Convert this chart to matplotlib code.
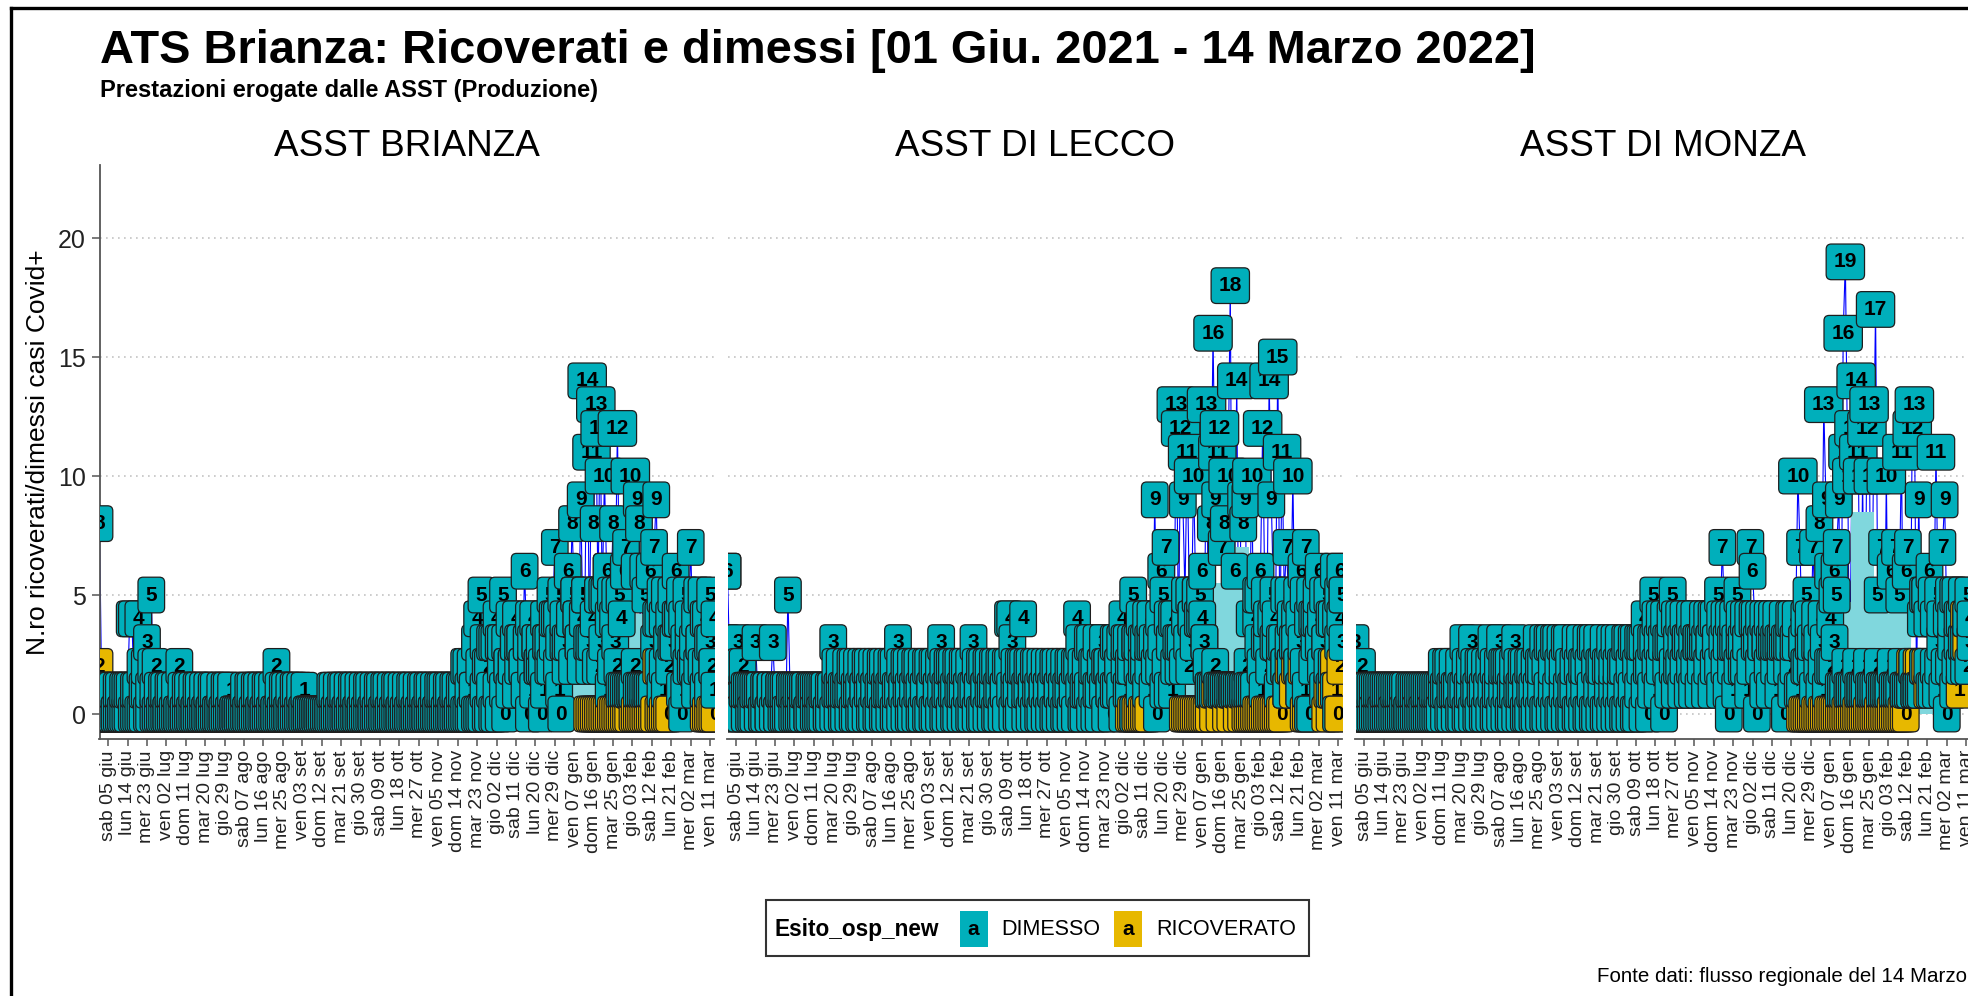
import datetime as dt
import numpy as np
import matplotlib
matplotlib.use("Agg")
import matplotlib.pyplot as plt
import matplotlib.dates as mdates
from matplotlib import font_manager
from matplotlib.path import Path
from matplotlib.lines import Line2D
from matplotlib.patches import Rectangle

_ = None  # no record on that day

# ---------------------------------------------------------------- texts
TITLE = "ATS Brianza: Ricoverati e dimessi [01 Giu. 2021 - 14 Marzo 2022]"
SUBTITLE = "Prestazioni erogate dalle ASST (Produzione)"
Y_LABEL = "N.ro ricoverati/dimessi casi Covid+"
CAPTION = "Fonte dati: flusso regionale del 14 Marzo 2022"
LEGEND_TITLE = "Esito_osp_new"
ESITI = ["DIMESSO", "RICOVERATO"]
FACETS = ["ASST BRIANZA", "ASST DI LECCO", "ASST DI MONZA"]

START = dt.date(2021, 6, 1)
END = dt.date(2022, 3, 13)
TICK_START = dt.date(2021, 6, 5)
TICK_STEP_DAYS = 9
Y_TICKS = [0, 5, 10, 15, 20]
TICK_LABELS = ["sab 05 giu", "lun 14 giu", "mer 23 giu", "ven 02 lug", "dom 11 lug",
               "mar 20 lug", "gio 29 lug", "sab 07 ago", "lun 16 ago", "mer 25 ago",
               "ven 03 set", "dom 12 set", "mar 21 set", "gio 30 set", "sab 09 ott",
               "lun 18 ott", "mer 27 ott", "ven 05 nov", "dom 14 nov", "mar 23 nov",
               "gio 02 dic", "sab 11 dic", "lun 20 dic", "mer 29 dic", "ven 07 gen",
               "dom 16 gen", "mar 25 gen", "gio 03 feb", "sab 12 feb", "lun 21 feb",
               "mer 02 mar", "ven 11 mar"]

# ---------------------------------------------------------------- ASST BRIANZA
B_HI = [8,1,0,1,1,0,1,0,1,1,  0,1,1,1,4,4,1,1,4,2,  1,2,3,1,5,1,2,1,0,1,
        1,0,1,1,0,1,0,2,1,0,  1,1,0,1,0,1,1,0,1,0,  1,0,1,1,0,0,1,0,1,1,
        0,1,0,0,0,0,0,1,0,1,  1,0,1,1,0,1,0,1,1,0,  1,0,2,1,0,1,1,0,1,0,
        1,1,0,1,0,1,0,0,0,0,  0,0,0,0,0,0,0,1,1,0,  1,0,1,1,0,1,0,1,1,0,
        1,0,1,0,1,1,0,1,0,1,  1,0,1,1,0,1,0,1,1,0,  1,0,1,0,1,1,0,1,0,1,
        1,0,1,1,0,1,0,1,1,1,  0,1,1,0,1,1,0,1,1,2,  2,1,2,1,3,4,2,5,3,2,
        2,3,3,3,4,3,3,5,3,2,  4,2,3,4,3,3,2,6,3,4,  3,4,3,2,3,2,4,3,3,5,
        4,7,4,3,5,4,3,6,4,8,  5,4,3,9,4,5,14,3,11,8,  13,5,12,5,10,6,4,5,8,5,
        12,5,1,6,7,1,10,1,6,9,  8,1,6,5,1,6,1,7,9,4,  5,4,5,3,4,5,3,6,4,5,
        4,3,5,4,7,3,4,5,3,5,  4,4,3,5,2,4]
B_LO = [1,0,0,0,0,0,0,0,0,0,  0,0,0,0,1,0,0,0,0,0,  0,1,0,0,2,0,0,0,0,0,
        0,0,0,0,0,0,0,0,0,0,  0,0,0,0,0,0,0,0,0,0,  0,0,0,0,0,0,0,0,0,0,
        0,0,0,0,0,0,0,0,0,0,  0,0,0,0,0,0,0,0,0,0,  0,0,0,0,0,0,0,0,0,0,
        0,0,0,0,0,0,0,0,0,0,  0,0,0,0,0,0,0,0,0,0,  0,0,0,0,0,0,0,0,0,0,
        0,0,0,0,0,0,0,0,0,0,  0,0,0,0,0,0,0,0,0,0,  0,0,0,0,0,0,0,0,0,0,
        0,0,0,0,0,0,0,0,0,0,  0,0,0,0,0,0,0,0,0,0,  0,0,0,1,0,0,0,0,1,0,
        0,1,0,0,1,0,2,1,0,2,  1,2,3,1,2,3,2,1,3,0,  2,1,3,2,2,0,1,3,2,2,
        3,4,2,1,0,3,2,3,4,2,  5,4,3,2,4,5,3,2,3,4,  2,5,2,3,5,6,1,2,4,3,
        2,1,4,1,1,1,1,1,2,1,  1,1,1,1,1,1,1,3,4,2,  1,2,1,3,2,3,3,4,4,1,
        0,1,2,3,2,2,1,2,3,2,  1,2,1,3,2,1]
B_RIC = [2,_,_,_,_,_,_,_,_,_,  _,_,_,_,_,_,_,_,_,_,  _,_,_,_,_,_,_,_,_,_,
         _,_,_,_,_,_,_,_,_,_,  _,_,_,_,_,_,_,_,_,_,  _,_,_,_,_,_,_,_,_,_,
         _,_,_,_,_,_,_,_,_,_,  _,_,_,_,_,_,_,_,_,_,  _,_,_,_,_,_,_,_,_,_,
         _,_,_,_,_,_,_,_,_,_,  _,_,_,_,_,_,_,_,_,_,  _,_,_,_,_,_,_,_,_,_,
         _,_,_,_,_,_,_,_,_,_,  _,_,_,_,_,_,_,_,_,_,  _,_,_,_,_,_,_,_,_,_,
         _,_,_,_,_,_,_,_,_,_,  _,_,_,_,_,_,_,_,_,_,  _,_,_,_,_,_,_,_,_,_,
         _,_,_,_,_,_,_,_,_,_,  _,_,_,_,_,_,_,_,_,_,  _,_,_,_,_,_,_,_,_,_,
         _,_,_,_,_,_,_,_,_,_,  _,_,_,_,_,_,0,0,0,0,  0,0,0,0,0,0,0,0,0,0,
         0,0,0,0,0,0,1,0,0,0,  0,0,0,0,0,0,0,0,2,0,  0,0,0,0,0,_,_,_,_,_,
         _,_,_,_,_,_,_,_,_,_,  0,0,0,0,0,0]
B_AREA_FROM = dt.date(2021, 12, 17)
B_AREA = [2.0,2.0,2.0,2.0,2.0,2.0,2.0,2.0,2.0,2.0,2.0,2.0,2.0,2.0,
          1.3,1.3,1.3,1.3,1.3,1.3,1.3,1.3,1.3,1.3,1.3,1.3,1.3,1.3,1.3,1.3,1.3,1.3,
          4.2,4.2,4.2,4.2,4.2,4.2,4.2,4.2,4.2,4.2,4.2,4.2,4.2,4.2,
          6.0,6.0,6.0,6.0,
          4.2,4.2,4.2,4.2,4.2,4.2,4.2,4.2]

# ---------------------------------------------------------------- ASST DI LECCO
L_HI = [6,2,1,2,1,3,2,2,1,1,  1,0,1,3,1,1,0,1,1,0,  1,3,1,0,1,1,1,0,5,1,
        1,0,1,1,0,1,1,0,1,1,  0,1,1,0,1,1,0,1,1,3,  2,1,2,1,1,2,1,2,2,1,
        2,1,2,1,2,2,1,2,1,2,  1,2,2,1,2,1,2,2,1,3,  2,1,2,2,1,2,1,2,2,1,
        2,1,2,2,1,2,2,1,2,3,  2,1,2,2,2,1,2,2,1,2,  2,1,2,1,3,2,1,2,2,1,
        2,2,1,2,2,1,2,2,1,2,  4,4,3,2,1,2,2,4,1,2,  2,1,2,2,1,2,1,2,1,2,
        1,2,2,1,2,1,2,1,2,2,  1,2,4,3,2,1,2,3,3,2,  2,3,1,2,3,2,2,1,2,3,
        3,2,3,4,3,3,2,3,5,3,  3,4,2,3,4,3,4,3,9,3,  4,6,5,7,4,3,4,4,13,3,
        12,9,5,11,5,4,10,5,4,5,  6,3,13,1,8,16,9,11,12,7,  8,1,10,18,1,6,14,1,9,8,
        9,1,4,10,1,5,5,6,12,5,  4,14,9,5,4,15,3,11,5,7,  5,4,10,3,5,4,6,5,7,4,
        5,4,4,5,6,4,5,3,5,4,  4,6,4,5,6,5]
L_LO = [3,0,1,0,1,2,0,1,0,1,  0,1,0,1,0,1,0,0,1,0,  1,0,1,0,1,0,0,1,0,1,
        0,1,0,0,1,0,1,0,0,1,  1,0,0,1,0,1,0,0,1,0,  1,0,1,0,0,1,0,1,0,0,
        1,0,0,1,0,1,0,0,1,0,  0,1,0,0,1,0,1,0,0,1,  0,1,0,1,0,0,1,0,1,0,
        0,1,0,0,1,0,0,1,0,1,  0,0,1,0,1,0,0,1,0,1,  0,1,0,0,1,0,1,0,0,1,
        0,1,0,1,0,0,1,0,1,0,  2,1,0,1,0,0,1,2,0,1,  0,1,0,1,0,0,1,0,1,0,
        1,0,0,1,0,1,0,0,1,0,  1,0,2,1,0,0,1,1,0,1,  0,1,0,2,1,0,2,1,0,1,
        1,2,1,0,2,1,1,2,0,3,  2,1,3,2,1,2,3,1,2,0,  2,3,1,2,1,3,1,2,3,2,
        3,2,4,3,2,4,3,5,4,4,  4,3,2,1,1,1,2,1,1,1,  1,1,1,1,1,1,1,1,1,1,
        1,2,1,1,1,4,3,2,1,3,  3,2,4,3,3,1,2,3,2,1,  3,2,3,4,2,1,3,2,1,0,
        0,2,3,4,3,2,1,3,2,1,  2,1,0,3,4,3]
L_RIC = [6,_,_,_,_,_,_,_,_,_,  _,_,_,_,_,_,_,_,_,_,  _,_,_,_,_,_,_,_,_,_,
         _,_,_,_,_,_,_,_,_,_,  _,_,_,_,_,_,_,_,_,_,  _,_,_,_,_,_,_,_,_,_,
         _,_,_,_,_,_,_,_,_,_,  _,_,_,_,_,_,_,_,_,_,  _,_,_,_,_,_,_,_,_,_,
         _,_,_,_,_,_,_,_,_,_,  _,_,_,_,_,_,_,_,_,_,  _,_,_,_,_,_,_,_,_,_,
         _,_,_,_,_,_,_,_,_,_,  _,_,_,_,_,_,_,_,_,_,  _,_,_,_,_,_,_,_,_,_,
         _,_,_,_,_,_,_,_,_,_,  _,_,_,_,_,_,_,_,_,_,  _,_,_,_,_,_,_,_,_,_,
         _,_,_,_,_,_,0,0,0,0,  0,0,0,0,0,0,_,_,_,_,  _,_,_,_,_,_,_,_,_,_,
         _,0,0,0,0,0,0,0,0,0,  0,0,0,0,1,0,1,1,0,1,  1,0,1,0,1,1,0,1,0,1,
         0,0,0,0,0,0,0,0,0,0,  0,0,0,0,0,0,0,0,2,1,  2,2,1,2,2,1,2,0,0,_,
         _,_,_,_,_,_,_,0,1,0,  1,2,1,0,2,5]
L_AREA_FROM = dt.date(2021, 12, 24)
L_AREA = [2.5,2.5,2.5,2.5,2.5,2.5,2.5,2.5,2.5,2.5,2.5,2.5,2.5,2.5,2.5,2.5,2.5,
          5.5,5.5,5.5,5.5,5.5,5.5,5.5,5.5,5.5,5.5,
          7.0,7.0,7.0,7.0,7.0,7.0,7.0,7.0,7.0,
          4.0,4.0,4.0,4.0,4.0,4.0,4.0,4.0,4.0,4.0,4.0,4.0]

# ---------------------------------------------------------------- ASST DI MONZA
M_HI = [3,1,1,2,1,0,1,1,0,1,  1,1,0,1,1,1,1,0,1,1,  1,1,0,1,0,1,1,1,0,1,
        1,0,1,1,1,0,1,1,1,0,  2,1,2,2,1,2,1,1,2,1,  3,2,1,2,3,2,1,2,2,1,
        2,1,2,3,2,1,2,3,2,2,  2,2,1,2,3,2,1,2,2,1,  2,2,1,2,3,2,2,3,2,3,
        3,2,3,3,2,3,2,3,3,2,  1,2,3,2,3,2,2,3,2,3,  3,2,3,2,2,3,2,2,3,2,
        3,2,3,2,2,3,3,2,3,3,  2,3,3,3,4,3,2,3,5,4,  3,4,3,4,3,3,4,5,4,3,
        4,3,4,3,3,4,3,4,3,3,  3,4,3,4,3,4,4,3,5,4,  7,4,3,4,3,4,3,5,4,3,
        4,3,4,7,6,4,3,4,3,4,  3,4,3,4,3,4,3,3,4,3,  3,4,4,3,4,10,7,3,4,5,
        4,3,7,4,3,8,4,13,9,6,  4,5,6,7,9,1,16,19,11,1,  10,12,14,11,1,10,1,12,13,1,
        10,17,5,1,7,1,10,1,6,1,  7,1,5,11,1,6,7,1,12,13,  1,9,4,5,5,4,6,5,4,11,
        5,4,7,9,4,5,4,5,5,4,  4,5,3,4,5,4]
M_LO = [2,0,0,1,0,0,0,0,1,0,  0,0,1,0,0,0,0,1,0,0,  0,0,1,0,0,0,0,0,1,0,
        0,1,0,0,0,1,0,0,0,1,  1,0,1,0,0,1,0,1,0,0,  1,0,0,1,0,1,0,0,1,0,
        0,1,0,1,0,0,1,0,1,0,  1,0,0,1,0,1,0,1,0,0,  0,1,0,0,1,0,1,0,0,1,
        0,1,0,1,0,0,1,0,1,0,  0,1,0,0,1,0,1,0,0,1,  0,0,1,0,1,0,0,1,0,1,
        0,1,0,1,0,0,1,0,1,0,  0,1,2,0,1,2,0,1,3,2,  1,2,3,0,2,1,3,2,1,2,
        2,1,2,3,1,2,1,2,3,1,  2,3,1,2,3,1,2,3,2,1,  3,2,1,0,2,3,1,2,3,2,
        2,3,1,2,4,3,0,2,3,1,  3,2,1,3,2,3,1,2,3,0,  2,3,1,2,3,1,1,3,2,2,
        3,2,1,3,2,1,2,3,1,2,  2,2,3,5,1,1,1,2,1,1,  1,1,2,1,1,1,1,2,1,1,
        1,1,2,1,1,1,1,1,2,1,  1,1,1,2,1,1,1,1,2,1,  1,1,1,2,5,2,1,1,2,1,
        2,3,1,2,0,2,3,1,2,3,  2,3,2,4,2,3]
M_RIC = [_,_,_,_,_,_,_,_,_,_,  _,_,_,_,_,_,_,_,_,_,  _,_,_,_,_,_,_,_,_,_,
         _,_,_,_,_,_,_,_,_,_,  _,_,_,_,_,_,_,_,_,_,  _,_,_,_,_,_,_,_,_,_,
         _,_,_,_,_,_,_,_,_,_,  _,_,_,_,_,_,_,_,_,_,  _,_,_,_,_,_,_,_,_,_,
         _,_,_,_,_,_,_,_,_,_,  _,_,_,_,_,_,_,_,_,_,  _,_,_,_,_,_,_,_,_,_,
         _,_,_,_,_,_,_,_,_,_,  _,_,_,_,_,_,_,_,_,_,  _,_,_,_,_,_,_,_,_,_,
         _,_,_,_,_,_,_,_,_,_,  _,_,_,_,_,_,_,_,_,_,  _,_,_,_,_,_,_,_,_,_,
         _,_,_,_,_,_,_,_,_,_,  _,_,_,_,_,_,_,_,_,_,  _,_,_,_,_,_,0,0,0,0,
         0,0,0,0,0,0,0,0,0,0,  0,0,0,0,0,0,0,0,0,0,  0,0,0,0,0,0,0,0,0,0,
         0,0,0,0,0,0,0,0,0,0,  0,0,0,0,0,0,1,2,2,1,  2,2,1,2,2,1,_,_,_,_,
         _,_,_,_,_,_,_,_,_,_,  1,3,4,3,_,_]
M_AREA_FROM = dt.date(2021, 12, 30)
M_AREA = [1.5,1.5,1.5,1.5,1.5,1.5,1.5,1.5,1.5,1.5,1.5,1.5,
          4.7,4.7,4.7,4.7,4.7,4.7,
          8.5,8.5,8.5,8.5,8.5,8.5,8.5,8.5,8.5,8.5,8.5,
          4.7,4.7,4.7,4.7,4.7,4.7,4.7,4.7,4.7,4.7,4.7,4.7,4.7,4.7,4.7,4.7,4.7,
          2.3,2.3,2.3,2.3,2.3,2.3,2.3,2.3,2.3,2.3,2.3,2.3,2.3]

DATA = {
    "ASST BRIANZA": (B_HI, B_LO, B_RIC, B_AREA_FROM, B_AREA),
    "ASST DI LECCO": (L_HI, L_LO, L_RIC, L_AREA_FROM, L_AREA),
    "ASST DI MONZA": (M_HI, M_LO, M_RIC, M_AREA_FROM, M_AREA),
}

# ---------------------------------------------------------------- style
TEAL = "#00AFBB"
GOLD = "#E7B800"
AREA_COLOR = "#80D7DD"
W, H, DPI = 1968, 996, 100

names = {f.name for f in font_manager.fontManager.ttflist}
FONT = "Liberation Sans" if "Liberation Sans" in names else "DejaVu Sans"
plt.rcParams["font.family"] = [FONT, "DejaVu Sans"]

N = (END - START).days + 1
DAYS = [START + dt.timedelta(days=i) for i in range(N)]
X = mdates.date2num(DAYS)
TICK_X = mdates.date2num([TICK_START + dt.timedelta(days=TICK_STEP_DAYS * k)
                          for k in range(len(TICK_LABELS))])

for nm, (hi, lo, ric, af, ar) in DATA.items():
    assert len(hi) == N and len(lo) == N and len(ric) == N, (nm, len(hi), len(lo), len(ric))


def label_box(x0, y0, width, height, mutation_size):
    px = 0.36 * mutation_size
    py = 0.40 * mutation_size
    r = 0.25 * mutation_size
    x0 -= px
    y0 -= py
    x1 = x0 + width + 2 * px
    y1 = y0 + height + 2 * py
    verts = [(x0 + r, y0), (x1 - r, y0), (x1, y0), (x1, y0 + r),
             (x1, y1 - r), (x1, y1), (x1 - r, y1),
             (x0 + r, y1), (x0, y1), (x0, y1 - r),
             (x0, y0 + r), (x0, y0), (x0 + r, y0), (x0 + r, y0)]
    codes = [Path.MOVETO, Path.LINETO, Path.CURVE3, Path.CURVE3,
             Path.LINETO, Path.CURVE3, Path.CURVE3,
             Path.LINETO, Path.CURVE3, Path.CURVE3,
             Path.LINETO, Path.CURVE3, Path.CURVE3, Path.CLOSEPOLY]
    return Path(verts, codes)


def fx(px):
    return px / W


def fy(py):
    return 1.0 - py / H


fig = plt.figure(figsize=(W / DPI, H / DPI), dpi=DPI)
fig.patch.set_facecolor("white")

PANEL_LEFTS = [99.5, 727.5, 1355.5]
PANEL_W = 615.0
PANEL_TOP, PANEL_BOT = 165.0, 739.0
YMIN, YMAX = -1.05, 23.07
LABEL_FS = 15
AXIS_COL = "#555555"


def put(ax, x, v, fc):
    ax.text(x, v, str(v), ha="center", va="center", fontsize=LABEL_FS,
            fontweight="bold", color="black", zorder=4, clip_on=True,
            bbox=dict(boxstyle=label_box, fc=fc, ec="#1e1e1e", lw=0.9))


for k, name in enumerate(FACETS):
    left = PANEL_LEFTS[k]
    ax = fig.add_axes([fx(left), fy(PANEL_BOT), PANEL_W / W, (PANEL_BOT - PANEL_TOP) / H])
    ax.set_facecolor("white")
    hi, lo, ric, a_from, area = DATA[name]

    i0 = (a_from - START).days
    ax.fill_between(X[i0:i0 + len(area)], 0, area, step="mid", color=AREA_COLOR,
                    lw=0, zorder=2.5)

    # DIMESSO daily line (upper record of each day)
    ax.plot(X, hi, color="blue", lw=0.8, zorder=2)

    for i in range(N):
        if ric[i] is not None:
            put(ax, X[i], ric[i], GOLD)
        put(ax, X[i], lo[i], TEAL)
        put(ax, X[i], hi[i], TEAL)

    ax.set_xlim(X[0], X[-1])
    ax.set_ylim(YMIN, YMAX)
    ax.set_yticks(Y_TICKS)
    ax.yaxis.grid(True, linestyle=(0, (1, 2.6)), color="#c4c4c4", lw=1.2)
    ax.set_axisbelow(True)
    ax.set_xticks(TICK_X)
    ax.set_xticklabels(TICK_LABELS, rotation=90, fontsize=14, color="#222222")
    ax.tick_params(axis="x", length=5, width=1.1, color=AXIS_COL, pad=3)
    for s in ("top", "right"):
        ax.spines[s].set_visible(False)
    ax.spines["bottom"].set_color(AXIS_COL)
    ax.spines["bottom"].set_linewidth(1.3)
    if k == 0:
        ax.spines["left"].set_color(AXIS_COL)
        ax.spines["left"].set_linewidth(1.3)
        ax.tick_params(axis="y", length=6, width=1.1, color=AXIS_COL, pad=4,
                       labelsize=18, labelcolor="#222222")
    else:
        ax.spines["left"].set_visible(False)
        ax.tick_params(axis="y", length=0, labelleft=False)

    fig.text(fx(left + PANEL_W / 2), fy(155.6), name, ha="center", va="baseline",
             fontsize=26.6, color="black")

# titles
fig.text(fx(100), fy(62.8), TITLE, ha="left", va="baseline", fontsize=33.8,
         fontweight="bold", color="black")
fig.text(fx(100), fy(96.6), SUBTITLE, ha="left", va="baseline", fontsize=17,
         fontweight="bold", color="black")
fig.text(fx(38), fy(452), Y_LABEL, rotation=90, ha="center", va="center",
         fontsize=19, color="black")

# legend
fig.add_artist(Rectangle((fx(766), fy(956)), (1309 - 766) / W, 56 / H,
                         transform=fig.transFigure, fill=False, ec="#333333", lw=1.5))
LY = 929
fig.text(fx(774), fy(LY), LEGEND_TITLE, ha="left", va="center", fontsize=16.3,
         fontweight="bold", color="black")
for cx, txt_x, col, lab in [(973.5, 1001.6, TEAL, ESITI[0]), (1128, 1156, GOLD, ESITI[1])]:
    fig.add_artist(Rectangle((fx(cx - 14), fy(LY + 18)), 28 / W, 36 / H,
                             transform=fig.transFigure, fc=col, ec="none"))
    fig.text(fx(cx), fy(LY), "a", ha="center", va="center", fontsize=15,
             fontweight="bold", color="black")
    fig.text(fx(txt_x), fy(LY), lab, ha="left", va="center", fontsize=15.5, color="black")

fig.text(fx(1597), fy(976), CAPTION, ha="left", va="center", fontsize=14.8, color="black")

# outer frame of the screenshot
fig.add_artist(Line2D([fx(11), fx(11)], [fy(8), 0], transform=fig.transFigure,
                      color="black", lw=2.4))
fig.add_artist(Line2D([fx(11), 1], [fy(8.5), fy(8.5)], transform=fig.transFigure,
                      color="black", lw=2.4))

fig.savefig("out.png", dpi=DPI)
